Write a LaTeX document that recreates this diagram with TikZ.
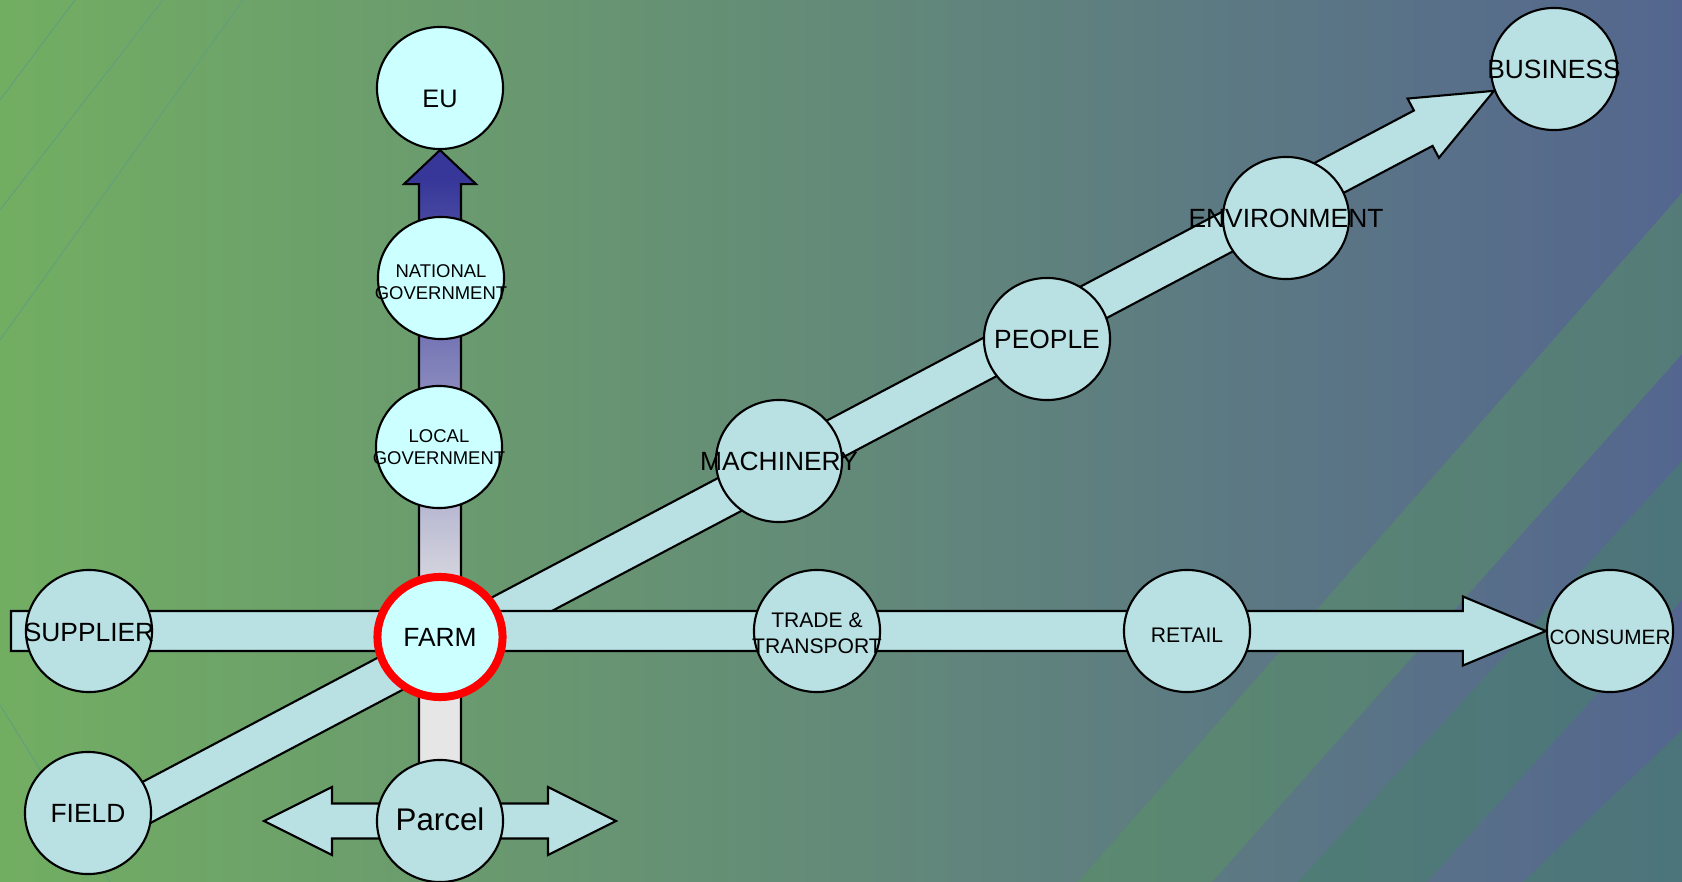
\documentclass[tikz,border=0pt]{standalone}
\usepackage{fontspec}
\setmainfont{Liberation Sans}
\usepackage{tikz}
\usetikzlibrary{shapes.geometric,calc,backgrounds}
\definecolor{bubble}{HTML}{B9E0E3}
\definecolor{govbubble}{HTML}{CCFFFF}
\definecolor{bgleft}{HTML}{72AE62}
\definecolor{bgright}{HTML}{54668F}
\definecolor{govlow}{HTML}{E6E6E6}
\definecolor{govhigh}{HTML}{37379A}
\definecolor{stripe}{HTML}{62A07A}
\definecolor{swooshA}{HTML}{58965F}
\definecolor{swooshB}{HTML}{468269}
\pgfdeclareverticalshading{govfade}{100bp}{color(0bp)=(govlow); color(39.8bp)=(govlow); color(72.8bp)=(govhigh); color(100bp)=(govhigh)}
% centred label that may spill out of its ellipse, [lowered by]
\newcommand{\lbl}[2][0.035cm]{\raisebox{-#1}[\height][\depth]{\makebox[0pt]{\begin{tabular}{@{}c@{}}#2\end{tabular}}}}
% block arrow: [style]{tail}{tip}{shaft half width}{head half width}{head length}
\newcommand{\blockarrow}[6][]{%
	\path ($(#3)!#6!(#2)$) coordinate (hb);
	\draw[#1] ($(#2)!#4!90:(#3)$) -- ($(hb)!#4!90:(#3)$) -- ($(hb)!#5!90:(#3)$) -- (#3)
		-- ($(hb)!#5!-90:(#3)$) -- ($(hb)!#4!-90:(#3)$) -- ($(#2)!#4!-90:(#3)$) -- cycle;}

\begin{document}
\begin{tikzpicture}[x=0.01cm, y=-0.01cm,
				place/.style={ellipse, draw, fill=bubble, line width=0.6pt, minimum width=1.26cm,
					minimum height=1.22cm, inner sep=0pt, font=\fontsize{7.5}{9}\selectfont},
				gov/.style={place, fill=govbubble},
				band/.style={draw, fill=bubble, line width=0.6pt}]
				\useasboundingbox (0,0) rectangle (1682,882);
				
				\node[gov, font=\fontsize{7.2}{8.6}\selectfont] (eu) at (440, 88) {\lbl[0.13cm]{EU}};
				\node[gov, font=\fontsize{5.25}{6.4}\selectfont] (natgov) at (441, 278) {\lbl[0.06cm]{NATIONAL\\GOVERNMENT}};
				\node[gov, font=\fontsize{5.25}{6.4}\selectfont] (locgov) at (439, 447) {\lbl[0.02cm]{LOCAL\\GOVERNMENT}};
				\node[gov, draw=red, line width=0.08cm, minimum width=1.25cm, minimum height=1.2cm] (farm) at (440, 637) {\lbl{FARM}};
				\node[place] (supplier) at (89, 631) {\lbl[0.045cm]{SUPPLIER}};
				\node[place] (field) at (88, 813) {\lbl{FIELD}};
				\node[place, font=\fontsize{8.9}{10.5}\selectfont] (parcel) at (440, 821) {\lbl[0.02cm]{Parcel}};
				\node[place, font=\fontsize{6}{7.4}\selectfont] (trade) at (817, 631) {\lbl[0.045cm]{TRADE \&\\TRANSPORT}};
				\node[place, font=\fontsize{6}{7.4}\selectfont] (retail) at (1187, 631) {\lbl[0.065cm]{RETAIL}};
				\node[place, font=\fontsize{5.9}{7.2}\selectfont] (consumer) at (1610, 631) {\lbl[0.085cm]{CONSUMER}};
				\node[place] (machinery) at (779, 461) {\lbl{MACHINERY}};
				\node[place] (people) at (1047, 339) {\lbl{PEOPLE}};
				\node[place] (environment) at (1286, 218) {\lbl{ENVIRONMENT}};
				\node[place] (business) at (1554, 69) {\lbl{BUSINESS}};
				
				\coordinate (supplytail) at (11, 631);
				\coordinate (fieldtail) at ($(field)+(12,14)$);
				
				\begin{scope}[on background layer]
					\shade[left color=bgleft, right color=bgright] (0,0) rectangle (1682,882);
					% swooshes
					\fill[swooshA, opacity=.45] (1078,882) -- (1682,193) -- (1682,354) -- (1212,882) -- cycle;
					\fill[swooshB, opacity=.5] (1298,882) -- (1682,461) -- (1682,600) -- (1427,882) -- cycle;
					\fill[swooshB, opacity=.5] (1523,882) -- (1682,730) -- (1682,882) -- cycle;
					\draw[stripe, line width=0.01cm] (75,0) -- (0,100) (163,0) -- (0,210) (243,0) -- (0,340) (0,705) -- (110,882);
					
					\blockarrow[band]{fieldtail}{business.200}{0.2cm}{0.335cm}{0.8cm}
					\blockarrow[band]{supplytail}{consumer.west}{0.2cm}{0.345cm}{0.83cm}
					\blockarrow[band, shade, shading=govfade]{parcel.center}{eu.south}{0.21cm}{0.36cm}{0.34cm}
					\begin{scope}[shift={(parcel)}]
						\draw[band] (-176,0) -- (-108,-34) -- (-108,-17.5) -- (108,-17.5) -- (108,-34) -- (176,0)
							-- (108,34) -- (108,17.5) -- (-108,17.5) -- (-108,34) -- cycle;
					\end{scope}
				\end{scope}
			\end{tikzpicture}
\end{document}
